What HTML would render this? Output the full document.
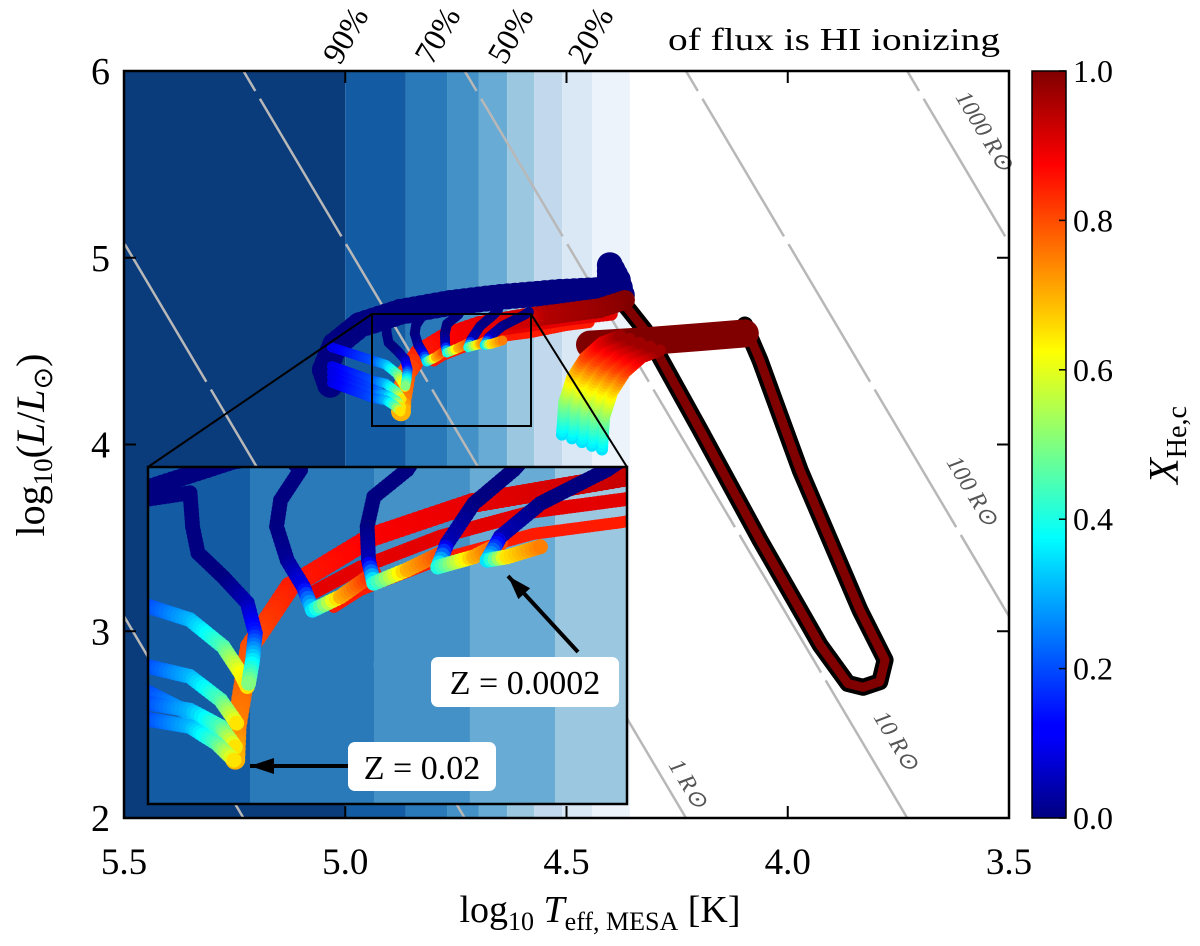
<!DOCTYPE html>
<html><head><meta charset="utf-8"><style>
html,body{margin:0;padding:0;background:#fff;overflow:hidden;width:1200px;height:946px;}
svg{display:block;font-family:"Liberation Serif",serif;}
</style></head><body>
<svg id="chart" width="1200" height="946" viewBox="0 0 1200 946" xmlns="http://www.w3.org/2000/svg" overflow="hidden">
<defs>
<clipPath id="plotClip"><rect x="124" y="71" width="885" height="747"/></clipPath>
<clipPath id="insetClip"><rect x="148" y="467" width="479" height="337"/></clipPath>
<linearGradient id="jetGrad" x1="0" y1="1" x2="0" y2="0">
<stop offset="0" stop-color="#000080"/><stop offset="0.11" stop-color="#0000ff"/><stop offset="0.125" stop-color="#0000ff"/>
<stop offset="0.34" stop-color="#00d8ff"/><stop offset="0.375" stop-color="#00ffff" /><stop offset="0.5" stop-color="#7fff7f"/>
<stop offset="0.625" stop-color="#ffff00"/><stop offset="0.66" stop-color="#ffd800"/><stop offset="0.875" stop-color="#ff0000"/><stop offset="1" stop-color="#800000"/>
</linearGradient>
</defs>
<g id="mainG" clip-path="url(#plotClip)"></g>
<g id="insetG" clip-path="url(#insetClip)"></g>
<g id="overG"></g>
</svg>
<script>
// ---- data ----
const bandEdges=[5.5,5.0,4.863,4.770,4.698,4.634,4.573,4.510,4.442,4.357];
const bandColors=['#0a3b7b','#135ca4','#2a79b9','#4391c6','#68abd5','#9bc7e0','#c2d9ed','#dae8f5','#ecf3fb'];
const xTicks=[5.5,5.0,4.5,4.0,3.5];
const yTicks=[2,3,4,5,6];
const cbTicks=[0,0.2,0.4,0.6,0.8,1.0];
const radii=[0.01,0.1,1,10,100,1000];
const pctLabels=['90%','70%','50%','20%'];
const pctX=[340,432,505,585];

const blueT=[4.375,4.384,4.402,4.402,4.515,4.65,4.763,4.876,4.967,5.023,5.046,5.034];
const blueL=[4.80,4.88,4.96,4.83,4.817,4.79,4.758,4.71,4.64,4.533,4.40,4.32];
const blueX=[0,0,0,0,0,0,0,0,0,0,0,0];

const redT=[4.368,4.424,4.56,4.583,4.696,4.771,4.833,4.863,4.873,4.874];
const redL=[4.774,4.731,4.688,4.681,4.635,4.575,4.486,4.379,4.236,4.178];
const redX=[1.0,0.98,0.95,0.93,0.9,0.88,0.85,0.8,0.75,0.7];
const redLow1T=[4.40,4.50,4.583,4.65,4.72,4.78,4.82];
const redLow1L=[4.70,4.672,4.641,4.62,4.575,4.52,4.47];
const redLow2T=[4.45,4.50,4.583,4.65,4.72,4.78,4.80];
const redLow2L=[4.655,4.64,4.601,4.58,4.535,4.48,4.45];

const trkAT=[5.00,4.908,4.906,4.902,4.883,4.865,4.859,4.861,4.864];
const trkAL=[4.62,4.653,4.592,4.546,4.503,4.457,4.403,4.355,4.314];
const trkAX=[0,0,0,0,0,0.05,0.15,0.35,0.5];
const trkBT=[4.84,4.825,4.840,4.843,4.835,4.823,4.816,4.795,4.770];
const trkBL=[4.73,4.694,4.640,4.593,4.533,4.486,4.444,4.468,4.510];
const trkBX=[0,0,0,0,0.02,0.1,0.35,0.7,0.85];
const trkCT=[4.735,4.745,4.770,4.775,4.774,4.770,4.745,4.720];
const trkCL=[4.73,4.694,4.646,4.593,4.533,4.492,4.516,4.545];
const trkCX=[0,0,0,0,0.05,0.4,0.7,0.8];
const trkDT=[4.655,4.665,4.695,4.715,4.722,4.695,4.675];
const trkDL=[4.72,4.694,4.634,4.563,4.521,4.539,4.563];
const trkDX=[0,0,0,0.05,0.4,0.7,0.8];
const trkET=[4.585,4.595,4.645,4.675,4.685,4.670,4.645];
const trkEL=[4.71,4.694,4.634,4.575,4.533,4.539,4.557];
const trkEX=[0,0,0,0.05,0.35,0.65,0.75];

const g1T=[5.03,4.938,4.908,4.883,4.870,4.865];
const g1L=[4.52,4.450,4.427,4.379,4.332,4.308];
const g2T=[5.03,4.938,4.908,4.885,4.873];
const g2L=[4.42,4.343,4.326,4.284,4.243];
const g3T=[5.03,4.938,4.908,4.885,4.874];
const g3L=[4.39,4.296,4.260,4.219,4.20];
const g4T=[5.03,4.938,4.908,4.885,4.874];
const g4L=[4.36,4.278,4.266,4.237,4.201];
const g5T=[5.03,4.938,4.908,4.888,4.875];
const g5L=[4.33,4.249,4.237,4.207,4.177];
const gX=[0.1,0.2,0.3,0.45,0.62,0.65];

const arcT=[4.465,4.460,4.442,4.413,4.375,4.334];
const arcL=[4.013,4.185,4.319,4.426,4.506,4.544];
const arcX=[0.35,0.5,0.65,0.8,0.9,0.97];
const arcShift=[-2,-1,0,1,2];

const loopT=[4.368,4.323,4.198,4.063,3.927,3.864,3.83,3.792,3.780,3.837,3.972,4.063,4.097];
const loopL=[4.747,4.613,4.078,3.489,2.926,2.72,2.70,2.73,2.846,3.114,3.863,4.452,4.640];
const bandT=[4.097,4.198,4.311,4.447];
const bandL=[4.595,4.575,4.555,4.535];

// ---- scales ----
const X=t=>124+(5.5-t)*442.5, Y=l=>71+(6-l)*186.75;
const Xi=t=>148+(4.9395-t)/0.3595*479, Yi=l=>467+(4.699-l)/0.6*337;
const NS='http://www.w3.org/2000/svg';
function mk(tag,attrs,parent){const e=document.createElementNS(NS,tag);for(const k in attrs)e.setAttribute(k,attrs[k]);parent.appendChild(e);return e;}
function jet(v){const c=x=>Math.round(255*Math.max(0,Math.min(1,x)));return `rgb(${c(1.5-Math.abs(4*v-3))},${c(1.5-Math.abs(4*v-2))},${c(1.5-Math.abs(4*v-1))})`;}
function drawTrack(g,T,L,C,sx,sy,r,name){
  const grp=mk('g',{},g);
  
  
  for(let i=0;i<T.length-1;i++){
    const x0=sx(T[i]),y0=sy(L[i]),x1=sx(T[i+1]),y1=sy(L[i+1]);
    const n=Math.max(1,Math.ceil(Math.hypot(x1-x0,y1-y0)/(r*0.6)));
    for(let k=0;k<n;k++){const f=k/n;const v=C[i]+(C[i+1]-C[i])*f;
      mk('circle',{cx:x0+(x1-x0)*f,cy:y0+(y1-y0)*f,r:r,fill:jet(v)},grp);}
  }
  mk('circle',{cx:sx(T[T.length-1]),cy:sy(L[L.length-1]),r:r,fill:jet(C[C.length-1])},grp);
}
const fill=(n,v)=>new Array(n).fill(v);
function poly(T,L,sx,sy){return T.map((t,i)=>(i?'L':'M')+sx(t).toFixed(1)+','+sy(L[i]).toFixed(1)).join(' ');}

function scene(g,sx,sy,s,isMain,top,h){
  for(let i=0;i<bandColors.length;i++){
    const r=mk('rect',{x:sx(bandEdges[i]),y:top,width:sx(bandEdges[i+1])-sx(bandEdges[i]),height:h,fill:bandColors[i]},g);
    
    
  }
  if(isMain){
    radii.forEach(R=>{
      const c=2*Math.log10(R);
      const l0=2,l1=6; const t0=3.73+(l0-c)/4, t1=3.73+(l1-c)/4;
      const ln=mk('line',{x1:sx(t0),y1:sy(l0),x2:sx(t1),y2:sy(l1),stroke:'#b8b8b8','stroke-width':2.5,'stroke-dasharray':'160 9'},g);
      
      
    });
  }
  const lb=mk('path',{d:poly(loopT,loopL,sx,sy),fill:'none',stroke:'#000','stroke-width':17,'stroke-linejoin':'round','stroke-linecap':'round'},g);
  
  
  const lr=mk('path',{d:poly(loopT,loopL,sx,sy),fill:'none',stroke:'#800000','stroke-width':9,'stroke-linejoin':'round'},g);
  
  
  const hb=mk('path',{d:poly(bandT,bandL,sx,sy),fill:'none',stroke:'#800000','stroke-width':28,'stroke-linecap':'round'},g);
  
  
  arcShift.forEach(k=>{
    drawTrack(g,arcT.map(t=>t+0.0226*k),arcL.map(l=>l+0.02*k),arcX,sx,sy,6*s,'arc-track-'+k);
  });
  drawTrack(g,blueT,blueL,blueX,sx,sy,isMain?13:9,'blue-band');
  drawTrack(g,redLow2T,redLow2L,fill(7,0.85),sx,sy,6,'red-low-track-2');
  drawTrack(g,redLow1T,redLow1L,fill(7,0.9),sx,sy,7,'red-low-track-1');
  drawTrack(g,redT,redL,redX,sx,sy,10,'red-top-band');
  const rt=isMain?5:7.5;
  drawTrack(g,g1T,g1L,gX,sx,sy,rt,'z002-track-1');
  drawTrack(g,g2T,g2L,gX,sx,sy,rt,'z002-track-2');
  drawTrack(g,g3T,g3L,gX,sx,sy,rt,'z002-track-3');
  drawTrack(g,g4T,g4L,gX,sx,sy,rt,'z002-track-4');
  drawTrack(g,g5T,g5L,gX,sx,sy,rt,'z002-track-5');
  drawTrack(g,trkAT,trkAL,trkAX,sx,sy,rt,'track-a');
  drawTrack(g,trkBT,trkBL,trkBX,sx,sy,rt,'track-b');
  drawTrack(g,trkCT,trkCL,trkCX,sx,sy,rt,'track-c');
  drawTrack(g,trkDT,trkDL,trkDX,sx,sy,rt,'track-d');
  drawTrack(g,trkET,trkEL,trkEX,sx,sy,rt,'track-e');
}
const mainG=document.getElementById('mainG'), insetG=document.getElementById('insetG'), over=document.getElementById('overG');
scene(mainG,X,Y,1,true,71,747);
scene(insetG,Xi,Yi,1,false,467,337);

const rLab=[['1000','955','97'],['100','946','462'],['10','873','717'],['1','668','765']];
rLab.forEach(a=>{
  const t=mk('text',{x:a[1],y:a[2],'font-size':24,'font-style':'italic',fill:'#555','transform':`rotate(59 ${a[1]} ${a[2]})`},over);
  t.textContent=a[0]+' R\u2299';
  
  
});
mk('rect',{x:372,y:314,width:159,height:112,fill:'none',stroke:'#000','stroke-width':2},over);
mk('line',{x1:372,y1:314,x2:148,y2:467,stroke:'#000','stroke-width':2},over);
mk('line',{x1:531,y1:314,x2:627,y2:467,stroke:'#000','stroke-width':2},over);
const ib=mk('rect',{x:148,y:467,width:479,height:337,fill:'none',stroke:'#000','stroke-width':2.5},over);


function arrow(x1,y1,x2,y2){
  mk('line',{x1:x1,y1:y1,x2:x2,y2:y2,stroke:'#000','stroke-width':4},over);
  const a=Math.atan2(y2-y1,x2-x1),L=24,W=8;
  const p=[[x2,y2],[x2-L*Math.cos(a)+W*Math.sin(a),y2-L*Math.sin(a)-W*Math.cos(a)],[x2-L*Math.cos(a)-W*Math.sin(a),y2-L*Math.sin(a)+W*Math.cos(a)]];
  mk('polygon',{points:p.map(q=>q.join(',')).join(' '),fill:'#000'},over);
}
arrow(578,652,508,576);
arrow(350,766,250,766);
const b1=mk('rect',{x:431,y:657,width:188,height:50,rx:7,fill:'#fff'},over);


const t1=mk('text',{x:525,y:694,'font-size':34,'text-anchor':'middle'},over);t1.textContent='Z = 0.0002';


const b2=mk('rect',{x:348,y:742,width:148,height:49,rx:7,fill:'#fff'},over);


const t2=mk('text',{x:422,y:779,'font-size':34,'text-anchor':'middle'},over);t2.textContent='Z = 0.02';



const fr=mk('rect',{x:124,y:71,width:885,height:747,fill:'none',stroke:'#000','stroke-width':2.5},over);


xTicks.forEach(v=>{
  const x=X(v);
  mk('line',{x1:x,y1:818,x2:x,y2:806,stroke:'#000','stroke-width':2},over);
  mk('line',{x1:x,y1:71,x2:x,y2:83,stroke:'#000','stroke-width':2},over);
  const t=mk('text',{x:x,y:874,'font-size':37,'text-anchor':'middle'},over);t.textContent=v.toFixed(1);
  
  
});
yTicks.forEach(v=>{
  const y=Y(v);
  mk('line',{x1:124,y1:y,x2:136,y2:y,stroke:'#000','stroke-width':2},over);
  mk('line',{x1:1009,y1:y,x2:997,y2:y,stroke:'#000','stroke-width':2},over);
  const t=mk('text',{x:110,y:y+13,'font-size':38,'text-anchor':'end'},over);t.textContent=String(v);
  
  
});
pctLabels.forEach((s,i)=>{
  const t=mk('text',{x:pctX[i],y:66,'font-size':32,transform:`rotate(-60 ${pctX[i]} 66)`},over);t.textContent=s;
  
  
});
const ft=mk('text',{x:668,y:50,'font-size':32,textLength:332,lengthAdjust:'spacingAndGlyphs'},over);ft.textContent='of flux is HI ionizing';



const xt=mk('text',{x:600,y:922,'font-size':38,'text-anchor':'middle'},over);
xt.innerHTML='log<tspan font-size="26" dy="8">10</tspan><tspan dy="-8" font-style="italic"> T</tspan><tspan font-size="26" dy="8">eff, MESA</tspan><tspan dy="-8"> [K]</tspan>';


const yt=mk('text',{x:0,y:0,'font-size':40,'text-anchor':'middle',transform:'translate(44 445) rotate(-90)'},over);
yt.innerHTML='log<tspan font-size="27" dy="8">10</tspan><tspan dy="-8">(</tspan><tspan font-style="italic">L</tspan>/<tspan font-style="italic">L</tspan><tspan font-size="27" dy="8">\u2299</tspan><tspan dy="-8">)</tspan>';



const cb=mk('rect',{x:1032,y:71,width:34,height:747,fill:'url(#jetGrad)',stroke:'#000','stroke-width':1.5},over);


cbTicks.forEach(v=>{
  const y=818-v*747;
  mk('line',{x1:1059,y1:y,x2:1066,y2:y,stroke:'#000','stroke-width':1.5},over);
  const t=mk('text',{x:1073,y:y+11,'font-size':32},over);t.textContent=v.toFixed(1);
  
  
});
const ct=mk('text',{x:0,y:0,'font-size':42,'text-anchor':'middle',transform:'translate(1178 445) rotate(-90)'},over);
ct.innerHTML='<tspan font-style="italic">X</tspan><tspan font-size="28" dy="8">He,c</tspan>';


</script>
</body></html>
